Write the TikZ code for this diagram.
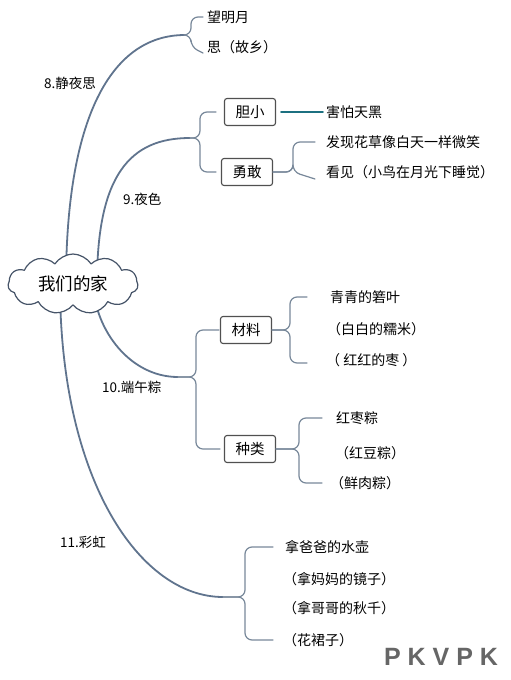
\documentclass[tikz,border=0pt]{standalone}
\usepackage{fontspec}
\setmainfont{Noto Sans CJK SC}
\newfontfamily\markfont{Liberation Sans}
\usetikzlibrary{shapes.symbols,backgrounds,calc}
\definecolor{mapLine}{RGB}{96,116,142}
\definecolor{mapTwig}{RGB}{120,136,154}
\definecolor{mapTeal}{RGB}{28,112,128}
\definecolor{mapBox}{RGB}{80,80,80}
\definecolor{mapCloud}{RGB}{70,84,104}

\begin{document}
\begin{tikzpicture}[x=1pt, y=-1pt, line cap=round, line join=round,
    trunk/.style={draw=mapLine, line width=1.8pt},
    twig/.style={draw=mapTwig, line width=1.2pt, rounded corners=7pt},
    tag/.style={anchor=west, inner sep=1pt, font=\fontsize{13.5}{15}\selectfont},
    leaf/.style={anchor=west, inner sep=1pt, font=\fontsize{14}{16}\selectfont},
    topic/.style={draw=mapBox, line width=1.1pt, rounded corners=2.5pt, fill=white,
        minimum width=51pt, minimum height=27pt, inner sep=0pt, font=\fontsize{14.5}{16}\selectfont}]
    \useasboundingbox (0,0) rectangle (511,680);

    % centre
    \node[cloud, cloud puffs=11, cloud puff arc=115, aspect=2.3, draw=mapCloud, line width=1.2pt,
        fill=white, minimum width=130pt, minimum height=60pt, inner sep=0pt,
        font=\fontsize{17.5}{20}\selectfont] (home) at (73,284) {我们的家};

    \coordinate (j8) at (185,35);
    \coordinate (j9) at (190,138);
    \coordinate (j10) at (178,377);
    \coordinate (j11) at (223,597);

    % 8
    \node[tag] (t8) at (43,83) {8.静夜思};
    \node[leaf] (moon) at (206,17) {望明月};
    \node[leaf] (home8) at (206,47) {思（故乡）};

    % 9
    \node[tag] (t9) at (122,199) {9.夜色};
    \node[topic] (timid) at (250,112) {胆小};
    \node[topic] (brave) at (247,172) {勇敢};
    \node[leaf] (dark) at (325,112) {害怕天黑};
    \node[leaf] (smile) at (325,142) {发现花草像白天一样微笑};
    \node[leaf] (bird) at (325,172) {看见（小鸟在月光下睡觉）};

    % 10
    \node[tag] (t10) at (101,387) {10.端午粽};
    \node[topic] (stuff) at (246,330) {材料};
    \node[topic] (kind) at (250,449) {种类};
    \node[leaf] (leaves) at (329,297) {青青的箬叶};
    \node[leaf] (rice) at (326,329) {（白白的糯米）};
    \node[leaf] (dates) at (325,360) {（ 红红的枣 ）};
    \node[leaf] (zdate) at (335,418) {红枣粽};
    \node[leaf] (zbean) at (334,453) {（红豆粽）};
    \node[leaf] (zmeat) at (329,483) {（鲜肉粽）};

    % 11
    \node[tag] (t11) at (59,542) {11.彩虹};
    \node[leaf] (pot) at (284,547) {拿爸爸的水壶};
    \node[leaf] (mirror) at (282,579) {（拿妈妈的镜子）};
    \node[leaf] (swing) at (282,608) {（拿哥哥的秋千）};
    \node[leaf] (skirt) at (282,640) {（花裙子）};

    \node[font=\markfont\bfseries\fontsize{25}{28}\selectfont, text=gray!80!black] (mark) at (441,657) {P K V P K};

    \begin{scope}[on background layer]
        \fill[white] (0,0) rectangle (511,680);
        \draw[trunk] ($(home.center)+(-7,0)$) .. controls (66,120) and (110,35) .. (j8);
        \draw[trunk] ($(home.center)+(24,0)$) .. controls (97,175) and (130,138) .. (j9);
        \draw[trunk] ($(home.center)+(20,0)$) .. controls (95,330) and (130,377) .. (j10);
        \draw[trunk] ($(home.center)+(-13,0)$) .. controls (60,480) and (140,597) .. (j11);
    \end{scope}

    % braces
    \draw[twig] (j8) -| ([xshift=-15pt]moon.west) -- ([xshift=-3pt]moon.west);
    \draw[twig] (j8) -| ([xshift=-15pt]home8.west) -- ([xshift=-3pt]home8.west |- 0,53);

    \draw[twig] (j9) -| ([xshift=-24pt]timid.west) -- ([xshift=-8pt]timid.west);
    \draw[twig] (j9) -| ([xshift=-21pt]brave.west) -- ([xshift=-5pt]brave.west);
    \draw[mapTeal, line width=1.8pt] ([xshift=5pt]timid.east) -- ([xshift=-2pt]dark.west);
    \draw[twig] (brave.east) -| ([xshift=-32pt]smile.west) -- ([xshift=-10pt]smile.west);
    \draw[twig] (brave.east) -| ([xshift=-32pt]bird.west) -- ([xshift=-10pt]bird.west |- 0,179);

    \draw[twig] (j10) -| ([xshift=-24pt]stuff.west) -- ([xshift=-1pt]stuff.west);
    \draw[twig] (j10) -| ([xshift=-28pt]kind.west) -- ([xshift=-4pt]kind.west);
    \draw[twig] (stuff.east) -| ([xshift=-39pt]leaves.west) -- ([xshift=-22pt]leaves.west);
    \draw[twig] (stuff.east) -| ([xshift=-35pt]dates.west |- 0,363) -- ([xshift=-18pt]dates.west |- 0,363);
    \draw[twig] (kind.east) -| ([xshift=-36pt]zdate.west) -- ([xshift=-13pt]zdate.west);
    \draw[twig] (kind.east) -| ([xshift=-30pt]zmeat.west) -- ([xshift=-7pt]zmeat.west);

    \draw[twig] (j11) -| ([xshift=-39pt]pot.west) -- ([xshift=-11pt]pot.west);
    \draw[twig] (j11) -| ([xshift=-37pt]skirt.west) -- ([xshift=-9pt]skirt.west);
\end{tikzpicture}
\end{document}
